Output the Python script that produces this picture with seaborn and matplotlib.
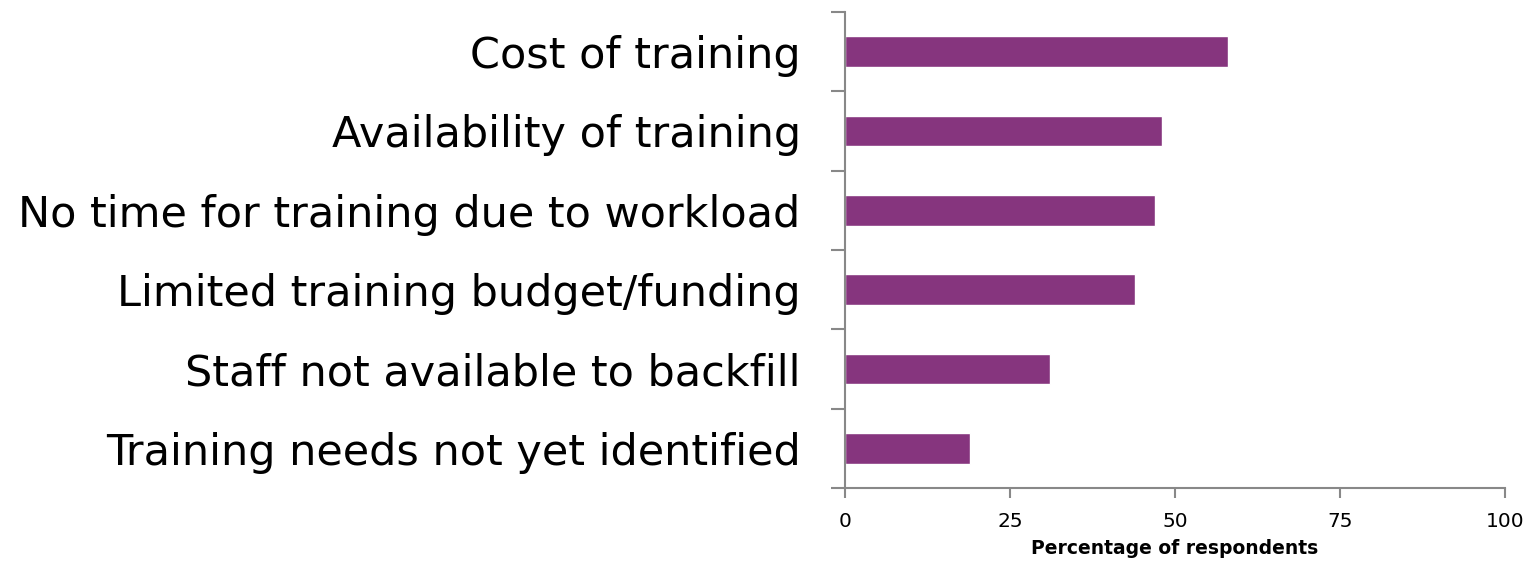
import numpy as np
import pandas as pd
import matplotlib
matplotlib.use('Agg')
import matplotlib.pyplot as plt
import seaborn as sns

# Barriers to training
barriers = ['Cost of training',
            'Availability of training',
            'No time for training due to workload',
            'Limited training budget/funding',
            'Staff not available to backfill',
            'Training needs not yet identified']
percentages = [58, 48, 47, 44, 31, 19]
x_ticks = [0, 25, 50, 75, 100]

df = pd.DataFrame({'barrier': barriers, 'pct': percentages})

sns.set_style('ticks')
plt.rcParams['font.family'] = ['DejaVu Sans']
plt.rcParams['text.color'] = 'black'
plt.rcParams['xtick.color'] = 'black'
plt.rcParams['ytick.color'] = 'black'
plt.rcParams['axes.labelcolor'] = 'black'

fig = plt.figure(figsize=(15.29, 5.65), dpi=100)
ax = fig.add_axes([0.5527, 0.1363, 0.4316, 0.8425])

sns.barplot(data=df, x='pct', y='barrier', color='#86357E', width=0.39,
            saturation=1, ax=ax)

ax.set_xlim(0, 100)
ax.set_ylim(5.5, -0.5)
ax.set_xticks(x_ticks)
ax.set_xticklabels([str(t) for t in x_ticks], fontsize=14.5)
ax.set_xlabel('Percentage of respondents', fontsize=13.5, fontweight='bold',
              labelpad=6)
ax.set_ylabel('')

# category labels, ticks drawn at category boundaries
ax.tick_params(axis='y', which='major', length=0, labelsize=31, pad=32)
ax.set_yticks(np.arange(-0.5, 6.0, 1.0), minor=True)
ax.tick_params(axis='y', which='minor', length=10, width=1.5, color='#888888',
               direction='out', left=True)
ax.tick_params(axis='x', which='major', length=7, width=1.5, color='#888888',
               labelcolor='black', direction='out', pad=10, bottom=True)

for side in ['top', 'right']:
    ax.spines[side].set_visible(False)
for side in ['left', 'bottom']:
    ax.spines[side].set_color('#888888')
    ax.spines[side].set_linewidth(1.5)

fig.savefig('out.png', dpi=100)
